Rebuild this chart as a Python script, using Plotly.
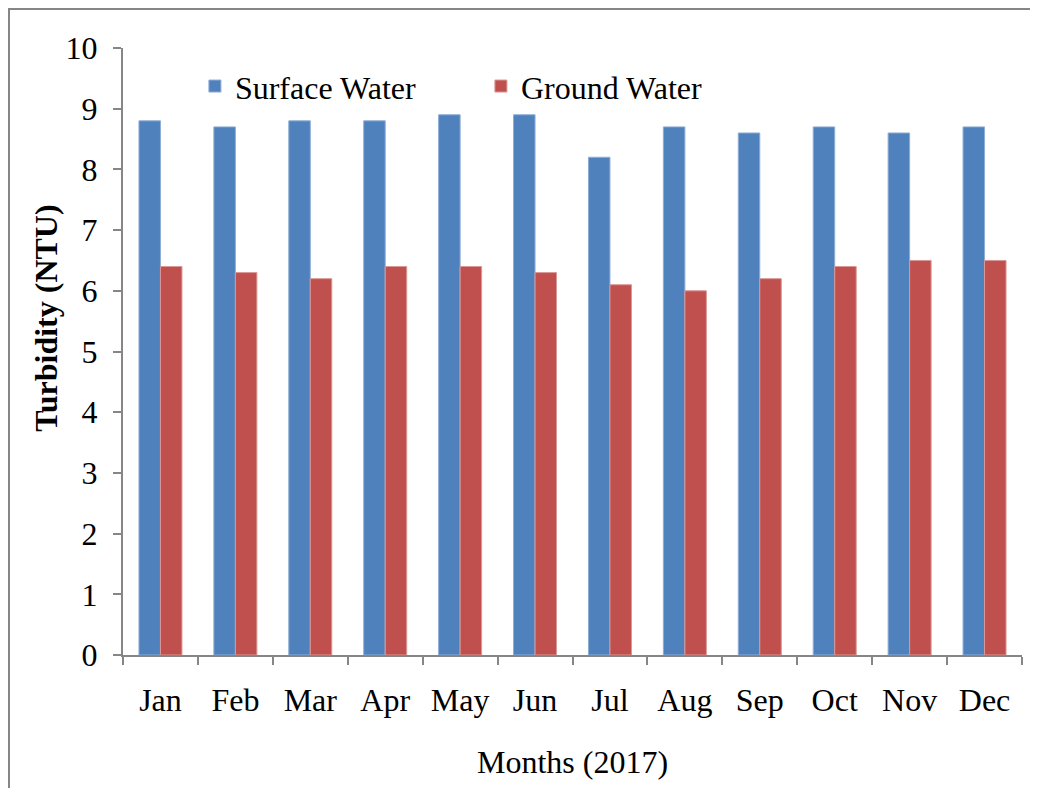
import plotly.graph_objects as go

months = ["Jan", "Feb", "Mar", "Apr", "May", "Jun", "Jul", "Aug", "Sep", "Oct", "Nov", "Dec"]
surface_water = [8.8, 8.7, 8.8, 8.8, 8.9, 8.9, 8.2, 8.7, 8.6, 8.7, 8.6, 8.7]
ground_water = [6.4, 6.3, 6.2, 6.4, 6.4, 6.3, 6.1, 6.0, 6.2, 6.4, 6.5, 6.5]

FONT = "Liberation Serif, Times New Roman, serif"
AXIS_GREY = "#868686"

fig = go.Figure()
fig.add_trace(go.Bar(
    x=months, y=surface_water, name="Surface Water",
    marker=dict(color="#4F81BD", line=dict(color="#8EADD6", width=1)),
))
fig.add_trace(go.Bar(
    x=months, y=ground_water, name="Ground Water",
    marker=dict(color="#C0504D", line=dict(color="#DA9896", width=1)),
))

# page body has an 8px margin, so the figure is sized to fit inside the window
fig.update_layout(
    width=1022,
    height=780,
    margin=dict(l=115, r=8, t=40, b=133),
    paper_bgcolor="white",
    plot_bgcolor="white",
    font=dict(family=FONT, size=32, color="black"),
    barmode="group",
    bargap=0.426,
    bargroupgap=0,
    showlegend=True,
    legend=dict(
        orientation="h",
        x=0.080, y=0.937, xanchor="left", yanchor="middle",
        entrywidth=241, entrywidthmode="pixels",
        font=dict(family=FONT, size=32),
        bgcolor="rgba(0,0,0,0)",
        itemwidth=30,
    ),
    xaxis=dict(
        showline=True, linecolor=AXIS_GREY, linewidth=2,
        ticks="outside", tickson="boundaries", ticklen=8,
        tickcolor=AXIS_GREY, tickwidth=2,
        ticklabelstandoff=16,
        showgrid=False,
        title=dict(text="Months (2017)", font=dict(family=FONT, size=32), standoff=33),
    ),
    yaxis=dict(
        range=[0, 10], dtick=1,
        showline=True, linecolor=AXIS_GREY, linewidth=2,
        ticks="outside", ticklen=8, tickcolor=AXIS_GREY, tickwidth=2,
        ticklabelstandoff=9,
        showgrid=False, zeroline=False,
    ),
    annotations=[dict(
        text="<b>Turbidity (NTU)</b>", textangle=-90,
        xref="paper", yref="paper", x=-0.085, y=0.555,
        xanchor="center", yanchor="middle", showarrow=False,
        font=dict(family=FONT, size=32),
    )],
    shapes=[dict(
        type="rect", xref="paper", yref="paper",
        x0=-0.1268, x1=1.03, y0=-0.25, y1=1.0643,
        line=dict(color=AXIS_GREY, width=2), fillcolor="rgba(0,0,0,0)", layer="below",
    )],
)

fig.write_html("out.html")
